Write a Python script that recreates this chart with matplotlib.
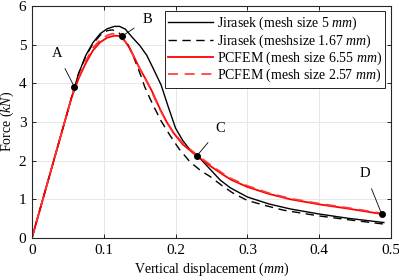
import matplotlib
matplotlib.use("Agg")
import matplotlib.pyplot as plt

plt.rcParams['font.family'] = ['Liberation Serif', 'DejaVu Serif']
plt.rcParams['mathtext.fontset'] = 'custom'
plt.rcParams['mathtext.rm'] = 'Liberation Serif'
plt.rcParams['mathtext.it'] = 'Liberation Serif:italic'

# Jirasek (mesh size 5 mm)
j5_x = [0, 0.055, 0.065, 0.075, 0.085, 0.095, 0.105, 0.115, 0.122, 0.130, 0.140, 0.150,
        0.160, 0.170, 0.180, 0.190, 0.200, 0.210, 0.220, 0.235, 0.250, 0.262, 0.276, 0.300,
        0.330, 0.360, 0.400, 0.440, 0.490]
j5_y = [0, 3.62, 4.25, 4.72, 5.05, 5.28, 5.41, 5.47, 5.47, 5.40, 5.18, 4.98,
        4.72, 4.34, 3.95, 3.38, 2.84, 2.52, 2.28, 2.04, 1.74, 1.50, 1.30, 1.06,
        0.88, 0.75, 0.62, 0.51, 0.40]

# Jirasek (meshsize 1.67 mm)
j167_x = [0, 0.055, 0.065, 0.075, 0.085, 0.095, 0.105, 0.112, 0.120, 0.128, 0.134, 0.140,
          0.146, 0.152, 0.157, 0.164, 0.171, 0.180, 0.192, 0.205, 0.220, 0.235, 0.248,
          0.265, 0.280, 0.300, 0.327, 0.350, 0.400, 0.450, 0.490]
j167_y = [0, 3.62, 4.25, 4.70, 5.02, 5.24, 5.36, 5.38, 5.33, 5.15, 4.99, 4.75,
          4.47, 4.18, 3.91, 3.62, 3.35, 3.02, 2.66, 2.30, 1.97, 1.74, 1.59,
          1.35, 1.16, 0.97, 0.83, 0.72, 0.57, 0.45, 0.36]

# PCFEM (mesh size 6.55 mm)
p655_x = [0, 0.055, 0.065, 0.075, 0.085, 0.095, 0.105, 0.115, 0.122, 0.130, 0.137, 0.143,
          0.150, 0.158, 0.167, 0.178, 0.187, 0.197, 0.210, 0.229, 0.250, 0.265, 0.278,
          0.300, 0.330, 0.360, 0.400, 0.440, 0.487]
p655_y = [0, 3.62, 4.12, 4.52, 4.85, 5.06, 5.18, 5.23, 5.22, 5.08, 4.88, 4.65,
          4.38, 4.12, 3.80, 3.35, 3.02, 2.72, 2.42, 2.13, 1.84, 1.65, 1.50,
          1.32, 1.14, 1.00, 0.87, 0.76, 0.62]

# PCFEM (mesh size 2.57 mm)
p257_x = [0, 0.055, 0.065, 0.075, 0.085, 0.095, 0.105, 0.112, 0.118, 0.125, 0.132, 0.140,
          0.148, 0.156, 0.165, 0.176, 0.186, 0.196, 0.210, 0.229, 0.250, 0.265, 0.278,
          0.300, 0.330, 0.360, 0.400, 0.440, 0.487]
p257_y = [0, 3.62, 4.15, 4.58, 4.92, 5.12, 5.24, 5.28, 5.28, 5.20, 5.02, 4.75,
          4.46, 4.18, 3.86, 3.40, 3.05, 2.76, 2.45, 2.16, 1.87, 1.68, 1.53,
          1.35, 1.16, 1.02, 0.89, 0.78, 0.64]

# annotated points
pt_labels = ['A', 'B', 'C', 'D']
pt_x = [0.059, 0.125, 0.230, 0.487]
pt_y = [3.91, 5.21, 2.13, 0.62]
lbl_x = [0.035, 0.161, 0.262, 0.464]
lbl_y = [4.78, 5.66, 2.84, 1.68]

xticks = [0, 0.1, 0.2, 0.3, 0.4, 0.5]
yticks = [0, 1, 2, 3, 4, 5, 6]

fig = plt.figure(figsize=(3.99, 2.80), dpi=100)
ax = fig.add_axes([0.080, 0.150, 0.900, 0.829])

ax.plot(j5_x, j5_y, color='black', lw=1.0, ls='-', label='Jirasek (mesh size 5 $\\mathit{mm}$)')
ax.plot(j167_x, j167_y, color='black', lw=1.0, ls=(0, (6, 4)), label='Jirasek (meshsize 1.67 $\\mathit{mm}$)')
ax.plot(p655_x, p655_y, color='red', lw=1.3, ls='-', label='PCFEM (mesh size 6.55 $\\mathit{mm}$)')
ax.plot(p257_x, p257_y, color='#ff3333', lw=1.2, ls=(0, (6, 4)), label='PCFEM (mesh size 2.57 $\\mathit{mm}$)')

ax.plot(pt_x, pt_y, 'o', color='black', ms=4, zorder=5)
for lab, px, py, tx, ty in zip(pt_labels, pt_x, pt_y, lbl_x, lbl_y):
    ax.annotate(lab, xy=(px, py), xytext=(tx, ty), fontsize=10.5, ha='center', va='center',
                arrowprops=dict(arrowstyle='-', color='black', lw=0.6, shrinkA=5, shrinkB=0))

ax.set_xlim(0, 0.5)
ax.set_ylim(0, 6)
ax.set_xticks(xticks)
ax.set_xticklabels(['0', '0.1', '0.2', '0.3', '0.4', '0.5'])
ax.set_yticks(yticks)
ax.tick_params(direction='in', top=True, right=True, labelsize=11, length=3, width=0.6, pad=4)
ax.grid(True, color='#e3e8e8', lw=0.7)
ax.set_axisbelow(True)
for s in ax.spines.values():
    s.set_color('#262626')
    s.set_linewidth(0.8)

ax.set_xlabel('Vertical displacement ($\\mathit{mm}$)', fontsize=10, labelpad=3)
ax.set_ylabel('Force ($\\mathit{kN}$)', fontsize=10, labelpad=2)

leg = ax.legend(loc='upper right', fontsize=10, frameon=True, fancybox=False,
                handlelength=3.2, handletextpad=0.3, borderpad=0.25, labelspacing=0.0,
                borderaxespad=0.4)
leg.get_frame().set_edgecolor('black')
leg.get_frame().set_linewidth(0.6)
leg.get_frame().set_alpha(1)

fig.savefig('out.png', dpi=100)
